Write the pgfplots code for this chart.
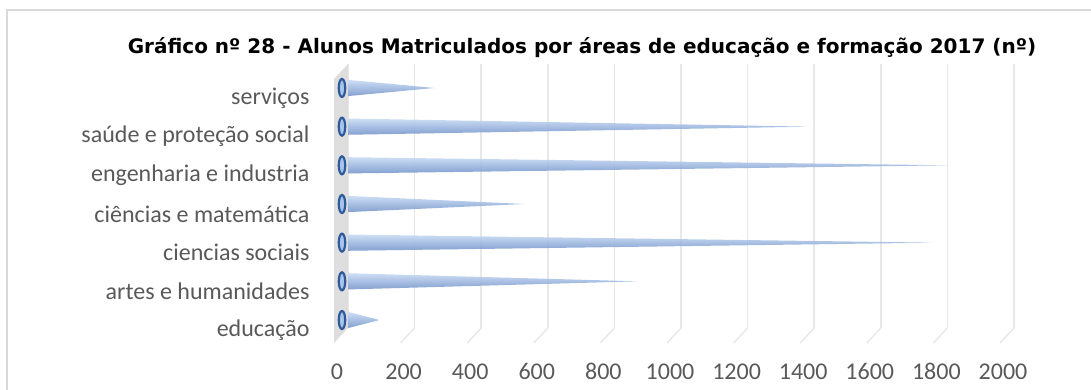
\documentclass[border=0pt]{standalone}
\usepackage{fontspec}
\setmainfont{Carlito}
\newfontfamily\titlefont{DejaVu Sans}
\usepackage{pgfplots}
\pgfplotsset{compat=1.18}

\definecolor{lbl}{HTML}{595959}
\definecolor{gridc}{HTML}{E8E8E8}
\definecolor{wallc}{HTML}{DEDEDE}
\definecolor{framec}{HTML}{D9D9D9}
\definecolor{coneTop}{HTML}{C8DBF4}
\definecolor{coneMid}{HTML}{9ABBE8}
\definecolor{coneBot}{HTML}{7696CB}
\definecolor{rimc}{HTML}{2E5A9A}
\definecolor{rimfill}{HTML}{A8C4EC}

% cone: base half-height in category units
\newcommand{\cone}[2]{%
  \addplot[draw=none, top color=coneTop, middle color=coneMid, bottom color=coneBot,
    fill opacity=0.9, forget plot]
    coordinates {(0,#1-0.21) (#2,#1) (0,#1+0.21)} -- cycle;}

\begin{document}
\begin{tikzpicture}
\draw[framec, line width=2pt] (7pt,-5pt) -- (7pt,379pt) -- (1100pt,379pt);
\node[font=\titlefont\bfseries\fontsize{20}{24}\selectfont, text=black] at (582pt,341pt)
  {Gráfico nº 28 - Alunos Matriculados por áreas de educação e formação 2017 (nº)};

\begin{axis}[
  at={(348pt,61pt)}, anchor=south west,
  scale only axis, width=666pt, height=264pt,
  xmin=0, xmax=2000, ymin=0.793, ymax=7.62,
  xtick={0,200,...,2000},
  ytick={1,...,7},
  yticklabels={educação, artes e humanidades, ciencias sociais, ciências e matemática,
               engenharia e industria, saúde e proteção social, serviços},
  xmajorgrids, grid style={gridc, line width=1.5pt},
  axis line style={draw=none},
  major tick length=0pt,
  tick label style={text=lbl},
  xticklabel style={font=\fontsize{24}{29}\selectfont, xshift=-11pt, yshift=-32pt},
  yticklabel style={font=\fontsize{24}{29}\selectfont, xshift=-35pt, yshift=-10pt},
  /pgf/number format/assume math mode=true,
  /pgf/number format/1000 sep={},
  clip=false,
]
% side wall and floor of the 3-D frame
\fill[wallc] (rel axis cs:0,1) -- (rel axis cs:0,0) -- ++(-14pt,-15pt)
  -- ([shift={(-14pt,-15pt)}]rel axis cs:0,1) -- cycle;
\pgfplotsinvokeforeach{200,400,...,2000}{
  \draw[gridc, line width=1.5pt] (axis cs:#1,0.793) -- ++(-14pt,-15pt);
}

% enrolled students per area (2017)
\cone{1}{95}     % educação
\cone{2}{870}    % artes e humanidades
\cone{3}{1760}   % ciencias sociais
\cone{4}{530}    % ciências e matemática
\cone{5}{1805}   % engenharia e industria
\cone{6}{1385}   % saúde e proteção social
\cone{7}{260}    % serviços

\addplot[only marks, mark=*, mark size=9pt,
  mark options={xshift=-6pt, xscale=0.36, fill=rimfill, draw=rimc, line width=2.2pt}]
  coordinates {(0,1) (0,2) (0,3) (0,4) (0,5) (0,6) (0,7)};
\end{axis}
\pgfresetboundingbox
\useasboundingbox (0pt,0pt) rectangle (1091pt,389pt);
\end{tikzpicture}
\end{document}
